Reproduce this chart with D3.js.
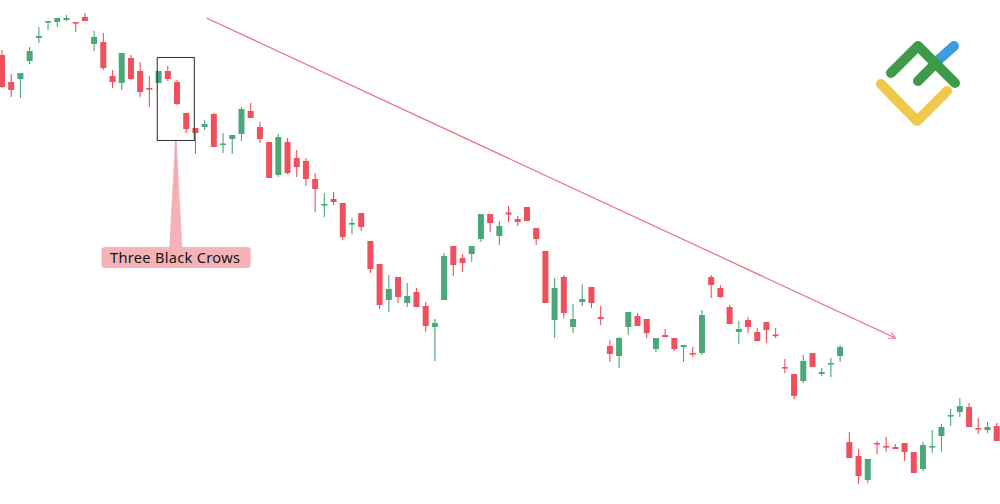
<!DOCTYPE html>
<html>
<head>
<meta charset="utf-8">
<script src="https://cdn.jsdelivr.net/npm/d3@7"></script>
<style>
  html, body { margin: 0; padding: 0; background: #fff; }
  svg { display: block; }
</style>
</head>
<body>
<svg id="chart" width="1000" height="504"></svg>
<script>
// OHLC series (price units)
const open  = [449,422,425,443,466,482,482,484,482,487,460,462,428,421,446,433,416,421,433,422,
               391,376,377,390,359,365,370,393,377,362,329,362,346,343,325,299,305,301,279.5,291,
               263,240,204,227,201,212,198,177,204,258,246,250,265,290,268,291.5,285,297,276,253,
               184,227,177,202,217,187,158,148,177,188,185,155,169,166,157,151,151,227,216,197,
               172,184,172,182,169.5,137,130,123,151,130,140,148,62,48,24,61,58,57,61,52,
               35,56.5,68,88,92,97,76,74,78];
const high  = [454,430,431,457,477,483,486,489,482,491,473,471,434,451,449,442,428,433,438,424,
               391,376,384,391,371,369,397,401,382,362,370,366,354,346,331,311,312,301,286,291,
               263,240,229,227,221,216,202,185,251,258,250,258,290,290,283,298,288,297,276,253,
               226,229,200,220,217,198,164,167,192,191,185,166,175,166,159,157,194,229,219,199,
               183,187,176,182,176,145,130,149,151,136,146,159,72,55,45,63,67,60,61,52,
               62,74,80,95,106,101,86,82,81];
const low   = [416,407,406,440,461,474,477,483,472,483,453,434,416,414,424,407,397,421,423,399,
               371,350,374,357,351,350,363,386,361,326,327,330,327,318,292,287,299,264,270,273,
               231,195,192,201,197,197,172,143,204,228,232,242,262,272,259,282,278,283,259,201,
               166,186,171,198,196,179,142,136,169,178,166,152,167,153,142,147,149,206,206,180,
               160,171,163,161,166,131,105,121,137,128,127,142,46,20,21,50,52,55,43,31,
               33,51,52,78,87,77,70,71,63];
const close = [417,414,431,453,468,483,486,486,481,483,467,436,422,451,425,412,415,433,425,400,
               375,371,380,357,360.5,369,395,386,365,326,367,331,337,325,315,300,302,267,281,277,
               235,199,215,207,208,197,178,181,248,239,241,258,290,281,278,289.5,282,283,265,201,
               216,191,185,205,201,185,150,166,192,178,171,166,167,155,159,150,189,219,207,180,
               175,177,163,174,168,136,108,143,137,132,141,157,46,28,45,60,56.5,55,52,31,
               59,58,77,89,98,77,75,77,63];

// Annotations
const patternLabel = "Three Black Crows";
const patternRange = [17, 21];      // candle indices covered by the highlight box
const trendStart = { i: 22.2, p: 486 };
const trendEnd   = { i: 97, p: 166 };

const W = 1000, H = 504;
const svg = d3.select("#chart");
const data = open.map((o, i) => ({ i, o, h: high[i], l: low[i], c: close[i] }));

const x = d3.scaleLinear().domain([0, data.length - 1]).range([2, 996.7]);
const y = d3.scaleLinear().domain([0, 504]).range([H, 0]);

const RED = "#F04F5E", GREEN = "#4CA877";
const bodyW = 6;

// trend line with arrow
const defs = svg.append("defs");
defs.append("marker")
  .attr("id", "arr").attr("viewBox", "0 0 10 10")
  .attr("refX", 9).attr("refY", 5)
  .attr("markerWidth", 8).attr("markerHeight", 8)
  .attr("markerUnits", "userSpaceOnUse")
  .attr("orient", "auto")
  .append("path").attr("d", "M1,1 L9,5 L1,9")
  .attr("fill", "none").attr("stroke", "#E8707C").attr("stroke-width", 1.4);

svg.append("line")
  .attr("x1", x(trendStart.i)).attr("y1", y(trendStart.p))
  .attr("x2", x(trendEnd.i)).attr("y2", y(trendEnd.p))
  .attr("stroke", "#E8707C").attr("stroke-width", 1.2)
  .attr("marker-end", "url(#arr)");

// candles
const g = svg.append("g");
const candle = g.selectAll("g.c").data(data).join("g").attr("class", "c");
candle.append("line")
  .attr("x1", d => x(d.i)).attr("x2", d => x(d.i))
  .attr("y1", d => y(d.h)).attr("y2", d => y(d.l))
  .attr("stroke", d => d.c >= d.o ? GREEN : RED).attr("stroke-width", 1.1);
candle.append("rect")
  .attr("x", d => x(d.i) - bodyW / 2).attr("width", bodyW)
  .attr("y", d => y(Math.max(d.o, d.c)))
  .attr("height", d => Math.max(1.6, Math.abs(y(d.o) - y(d.c))))
  .attr("fill", d => d.c >= d.o ? GREEN : RED);

// highlight box around the pattern
const bx0 = x(patternRange[0]) - 1.3, bx1 = x(patternRange[1]) - 1.1;
const by0 = 57.5, by1 = 140.5;
const cx = (bx0 + bx1) / 2;

// callout connector
const labelY = 247, labelH = 21;
svg.append("path")
  .attr("d", `M${cx - 0.8},${by1} L${cx + 0.8},${by1} L${cx + 6.5},${labelY} L${cx - 6.5},${labelY} Z`)
  .attr("fill", "#F5B3B8");
svg.append("line")
  .attr("x1", cx).attr("x2", cx).attr("y1", by1).attr("y2", by1 + 60)
  .attr("stroke", "#C9A9A9").attr("stroke-width", 1).attr("opacity", 0.6);

svg.append("rect")
  .attr("x", bx0).attr("y", by0).attr("width", bx1 - bx0).attr("height", by1 - by0)
  .attr("fill", "none").attr("stroke", "#3a3a3a").attr("stroke-width", 1.1);

// label
const lbl = svg.append("g");
const txt = lbl.append("text")
  .attr("x", 110).attr("y", labelY + 15.8)
  .attr("font-family", "'Noto Sans', 'Open Sans', sans-serif")
  .attr("font-size", 14.6).attr("font-weight", 400)
  .attr("letter-spacing", 0.3)
  .attr("fill", "#161616")
  .text(patternLabel);
const tw = txt.node().getComputedTextLength();
lbl.insert("rect", "text")
  .attr("x", 101.5).attr("y", labelY)
  .attr("width", Math.max(149, tw + 19)).attr("height", labelH)
  .attr("rx", 3.5).attr("fill", "#F5B3B8");

// logo
const logo = svg.append("g").attr("fill", "none").attr("stroke-linecap", "round").attr("stroke-linejoin", "round")
  .attr("stroke-width", 10);
logo.append("path").attr("d", "M881,84 L917,121 L947,91").attr("stroke", "#F1C94A");
logo.append("path").attr("d", "M935,63 L954,46").attr("stroke", "#3D9BE0");
logo.append("path").attr("d", "M891,73 L918,46 L955,83").attr("stroke", "#3C9A49");
logo.append("path").attr("d", "M918,81 L936,63").attr("stroke", "#3C9A49");
</script>
</body>
</html>
